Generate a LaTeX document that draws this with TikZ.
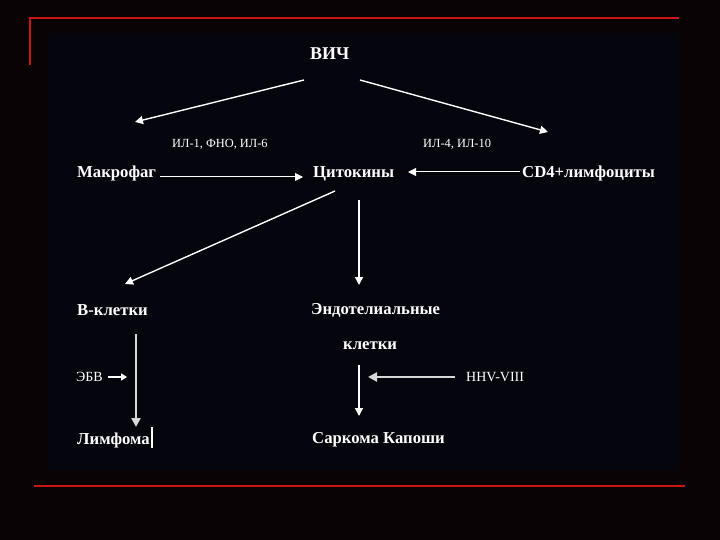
\documentclass[tikz,border=0pt]{standalone}
\usepackage{fontspec}
\setmainfont{Liberation Serif}
\usetikzlibrary{arrows.meta,calc}
\definecolor{outerbg}{RGB}{10,3,6}
\definecolor{innerbg}{RGB}{5,5,13}
\definecolor{framered}{RGB}{200,22,22}
\definecolor{lightgray}{RGB}{215,215,215}
\tikzset{
  lbl/.style={text=white, inner sep=0pt, anchor=base west, font=\bfseries\fontsize{16.7}{19}\selectfont},
  small/.style={text=white, inner sep=0pt, anchor=base west, font=\fontsize{12.4}{14}\selectfont},
  mid/.style={text=white, inner sep=0pt, anchor=base west, font=\fontsize{14}{16}\selectfont},
  arr/.style={draw=white, line width=1.4pt, -{Triangle[length=8pt,width=8pt]}},
  thick arr/.style={draw=lightgray, line width=2.6pt, -{Triangle[length=9pt,width=9pt]}},
  frame/.style={draw=framered, line width=2.2pt}
}
\begin{document}
\begin{tikzpicture}[x=1pt,y=-1pt]
\useasboundingbox (0,0) rectangle (720,540);
\fill[outerbg] (0,0) rectangle (720,540);
\fill[innerbg] (48,33) rectangle (678,470);
% red frame lines
\draw[frame] (30,65) -- (30,18) -- (679,18);
\draw[frame] (34,486) -- (685,486);

% nodes
\node[lbl, font=\bfseries\fontsize{18}{21}\selectfont] (vich) at (310,60) {ВИЧ};
\node[small] (il1) at (172,148) {ИЛ-1, ФНО, ИЛ-6};
\node[small] (il4) at (423,148) {ИЛ-4, ИЛ-10};
\node[lbl] (makro) at (77,178) {Макрофаг};
\node[lbl] (cyto) at (313,178) {Цитокины};
\node[lbl] (cd4) at (522,178) {CD4+лимфоциты};
\node[lbl] (bcell) at (77,315) {В-клетки};
\node[lbl] (endo) at (311,314) {Эндотелиальные};
\node[lbl] (kl) at (343,349) {клетки};
\node[mid] (ebv) at (76,381) {ЭБВ};
\node[mid] (hhv) at (466,381) {HHV-VIII};
\node[lbl] (lymph) at (77,444) {Лимфома};
\node[lbl] (sark) at (312,443) {Саркома Капоши};

% cursor bar after Лимфома
\draw[white, line width=1.2pt] ($(lymph.base east)+(2,-17)$) -- ($(lymph.base east)+(2,4)$);

% connectors
\draw[arr] ($(vich.base west)+(-6,20)$) -- ($(makro.base west)+(58,-56)$);
\draw[arr] ($(vich.base west)+(50,20)$) -- ($(cd4.base west)+(26,-46)$);
\draw[arr, line width=1pt] ($(makro.base west)+(83,-1)$) -- ($(cyto.base west)+(-10,-1)$);
\draw[arr, line width=1pt] ($(cd4.base west)+(-2,-6)$) -- ($(cyto.base west)+(95,-6)$);
\draw[arr] ($(cyto.base west)+(22,13)$) -- ($(bcell.base west)+(48,-31)$);
\draw[arr] ($(cyto.base west)+(46,22)$) -- ($(endo.base west)+(48,-29)$);
\draw[thick arr] ($(bcell.base west)+(59,19)$) -- ($(lymph.base west)+(59,-17)$);
\draw[arr] ($(kl.base west)+(16,16)$) -- ($(sark.base west)+(47,-27)$);
\draw[thick arr] ($(hhv.base west)+(-11,-4)$) -- ($(kl.base west)+(25,28)$);
\draw[arr, line width=1.6pt, -{Triangle[length=6pt,width=7pt]}] ($(ebv.base east)+(5,-4)$) -- ($(ebv.base east)+(24,-4)$);
\end{tikzpicture}
\end{document}
